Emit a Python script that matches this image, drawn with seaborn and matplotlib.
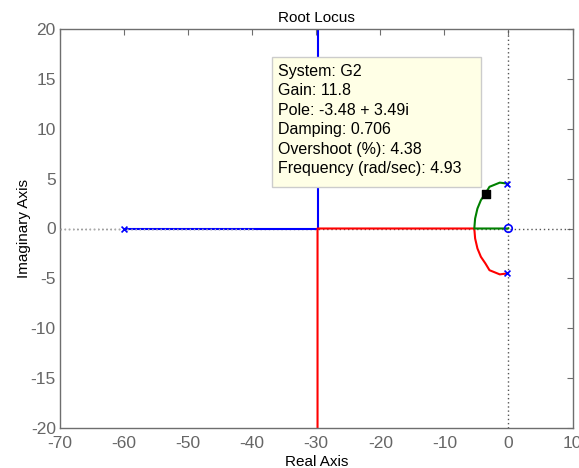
import numpy as np
import pandas as pd
import matplotlib
matplotlib.use("Agg")
import matplotlib.pyplot as plt
from matplotlib.patches import Rectangle
import seaborn as sns

# root locus branches (real, imag)
blue_re = [-60.0, -29.8, -29.8]
blue_im = [0.0, 0.0, 21.0]

red_re = [-0.15, -1.35, -2.96, -3.6, -4.3, -4.84, -5.2, -5.33, -29.8, -29.8]
red_im = [-4.5, -4.6, -4.18, -3.5, -2.84, -2.0, -1.0, 0.0, 0.0, -21.0]

green_re = [-0.15, -1.35, -2.96, -3.6, -4.3, -4.84, -5.2, -5.33, 0.0]
green_im = [4.5, 4.6, 4.18, 3.5, 2.84, 2.0, 1.0, 0.0, 0.0]

poles_re = [-60.0, -0.15, -0.15]
poles_im = [0.0, 4.5, -4.5]
zeros_re = [0.0]
zeros_im = [0.0]

sel_re = -3.48
sel_im = 3.49

tip_lines = ["System: G2", "Gain: 11.8", "Pole: -3.48 + 3.49i",
             "Damping: 0.706", "Overshoot (%): 4.38",
             "Frequency (rad/sec): 4.93"]

sns.set_style("white")
plt.rcParams['font.family'] = ['Liberation Sans', 'DejaVu Sans']
plt.rcParams['axes.unicode_minus'] = False

fig = plt.figure(figsize=(5.79, 4.68), dpi=100)
ax = fig.add_axes([60/579, 1-428/468, 512.5/579, 399/468])

# dotted axes lines
ax.axhline(0, color="#555555", ls=(0, (1, 2)), lw=1, zorder=1)
ax.axvline(0, color="#555555", ls=(0, (1, 2)), lw=1, zorder=1)

sns.lineplot(x=blue_re, y=blue_im, sort=False, estimator=None, color="blue", lw=1.5, ax=ax, zorder=2)
sns.lineplot(x=red_re, y=red_im, sort=False, estimator=None, color="red", lw=1.5, ax=ax, zorder=2)
sns.lineplot(x=green_re, y=green_im, sort=False, estimator=None, color="green", lw=1.5, ax=ax, zorder=3)

ax.axhline(0, xmin=0, xmax=(60 - 29.8) / 80 + 0.0, color="#aaaaaa", ls=(0, (1, 2)), lw=1, zorder=4)

sns.scatterplot(x=poles_re, y=poles_im, marker="x", color="blue", s=18, linewidth=1.2, ax=ax, zorder=5)
ax.scatter(zeros_re, zeros_im, marker="o", facecolors="none", edgecolors="blue", s=30, linewidths=1.2, zorder=5)
ax.scatter([sel_re], [sel_im], marker="s", color="black", s=28, zorder=6)

ax.set_xlim(-70, 10)
ax.set_ylim(-20, 20)
ax.set_xticks(range(-70, 11, 10))
ax.set_yticks(range(-20, 21, 5))

for s in ax.spines.values():
    s.set_color("#6e6e6e")
    s.set_linewidth(1)
ax.tick_params(direction="in", length=4, colors="#6e6e6e", labelcolor="#666666",
               labelsize=12.5, top=True, right=True)
ax.tick_params(axis="x", pad=6)
ax.tick_params(axis="y", pad=3)

ax.set_xlabel("Real Axis", fontsize=11, color="black", labelpad=3)
ax.set_ylabel("Imaginary Axis", fontsize=11, color="black", labelpad=0)
ax.set_title("Root Locus", fontsize=11, color="black", pad=5)

# data tip
bx0 = (272.3 - 60) / 512.5
bx1 = (480.7 - 60) / 512.5
by1 = (428 - 57.3) / 399
by0 = (428 - 186.7) / 399
ax.add_patch(Rectangle((bx0, by0), bx1 - bx0, by1 - by0, transform=ax.transAxes,
                       facecolor="#ffffe6", edgecolor="#cccccc", lw=1, zorder=7))
ax.text((277.5 - 60) / 512.5, (428 - 64) / 399, "\n".join(tip_lines), transform=ax.transAxes,
        fontsize=11.5, va="top", ha="left", linespacing=1.37, color="black", zorder=8)

fig.savefig("out.png", dpi=100)
